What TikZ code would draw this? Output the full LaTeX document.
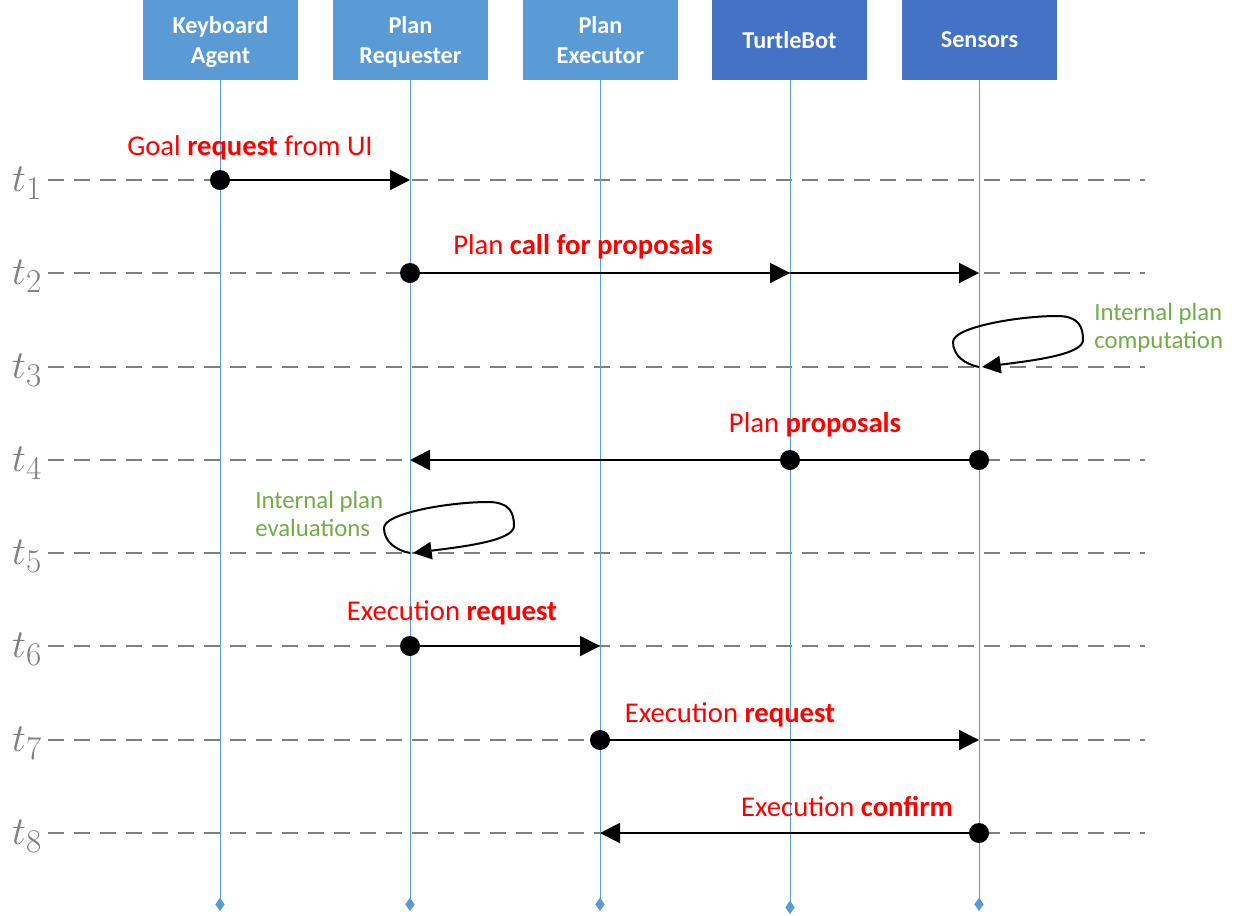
\documentclass[tikz,border=0pt]{standalone}
\usepackage{fontspec}
\setmainfont{Carlito}
\usetikzlibrary{arrows.meta}
\definecolor{boxA}{HTML}{5B9BD5}
\definecolor{boxB}{HTML}{4472C4}
\definecolor{lifec}{HTML}{5B9BD5}
\definecolor{grayline}{HTML}{7F7F7F}
\definecolor{redt}{HTML}{FF0000}
\definecolor{greent}{HTML}{70AD47}
\begin{document}
\begin{tikzpicture}[x=0.75pt,y=-0.75pt,
 actor/.style={fill=#1, minimum width=116.25pt, minimum height=60pt, inner sep=0pt, text=white, font=\fontsize{18.2}{22.5}\selectfont\bfseries, align=center},
 life/.style={draw=lifec, line width=0.75pt, -{Diamond[length=10pt,width=7pt,fill=lifec]}},
 tline/.style={draw=grayline, line width=1.5pt, dash pattern=on 12pt off 7.5pt},
 tlab/.style={text=grayline, font=\fontsize{24.88}{26}\selectfont, inner sep=0pt},
 dot/.style={circle, fill=black, minimum size=15pt, inner sep=0pt},
 msg/.style={draw=black, line width=1.5pt, -{Triangle[length=15pt,width=15pt]}},
 seg/.style={draw=black, line width=1.5pt},
 loopar/.style={draw=black, line width=1.5pt, -{Triangle[length=14pt,width=13pt]}},
 redlab/.style={text=redt, font=\fontsize{21.5}{24}\selectfont, inner sep=0pt, anchor=base},
 greenlab/.style={text=greent, font=\fontsize{18.6}{21.5}\selectfont, inner sep=0pt, align=left, anchor=west},
 selfloop/.pic={\draw[loopar] (0,0) .. controls (-15,-3) and (-26,-12) .. (-26,-25) .. controls (-26,-40) and (40,-51) .. (78,-51) .. controls (100,-51) and (104,-40) .. (104,-27) .. controls (104,-12) and (50,-6) .. (3,0);}]

\useasboundingbox (0,0) rectangle (1244,915);

% time lines
\foreach \i/\yy in {1/180,2/273,3/367,4/460,5/553,6/646,7/740,8/833}{
  \node[tlab] (t\i) at (27,\yy+3) {\scalebox{1.2}{$t_{\i}$}};
  \coordinate (tl\i) at (48,\yy);
  \coordinate (tr\i) at (1145,\yy);
  \draw[tline] (tl\i) -- (tr\i);
}

% actors
\node[actor=boxA] (kb) at (220.5,40) {};
\node[actor=boxA] (pr) at (410.5,40) {};
\node[actor=boxA] (pe) at (600.5,40) {};
\node[actor=boxB] (tb) at (789.5,40) {TurtleBot};
\node[actor=boxB] (se) at (979.5,40) {Sensors};
\node[actor=boxA, fill=none, minimum height=0pt] (kbt) at (220.5,42) {Keyboard\\Agent};
\node[actor=boxA, fill=none, minimum height=0pt] (prt) at (410.5,41.5) {Plan\\Requester};
\node[actor=boxA, fill=none, minimum height=0pt] (pet) at (600.5,40) {Plan\\Executor};

% lifelines
\coordinate (kbe) at (220,911);
\coordinate (pre) at (410,911);
\coordinate (pee) at (600,911);
\coordinate (tbe) at (790,914);
\coordinate (see) at (979,911);
\draw[life] (kb.south -| kbe) -- (kbe);
\draw[life] (pr.south -| pre) -- (pre);
\draw[life] (pe.south -| pee) -- (pee);
\draw[life] (tb.south -| tbe) -- (tbe);
\draw[life] (se.south -| see) -- (see);

% t1
\node[dot] (d1) at (220,180) {};
\coordinate (e1) at (410,180);
\draw[msg] (d1) -- (e1);
\node[redlab] (m1) at (250,155) {Goal \textbf{request} from UI};

% t2
\node[dot] (d2) at (410,273) {};
\coordinate (e2a) at (790,273);
\coordinate (e2b) at (979,273);
\draw[msg] (d2) -- (e2a);
\draw[msg] (e2a) -- (e2b);
\node[redlab] (m2) at (583,254) {Plan \textbf{call for proposals}};

% t3
\coordinate (l3) at (979,367);
\pic at (l3) {selfloop};
\node[greenlab] (g3) at (1094,328) {Internal plan\\computation};

% t4
\node[dot] (d4a) at (979,460) {};
\node[dot] (d4b) at (790,460) {};
\coordinate (e4) at (410,460);
\draw[seg] (d4a) -- (d4b);
\draw[msg, line width=2.2pt] (d4b) -- (e4);
\node[redlab] (m4) at (815,432) {Plan \textbf{proposals}};

% t5
\coordinate (l5) at (410,553);
\pic at (l5) {selfloop};
\node[greenlab] (g5) at (255,514) {Internal plan\\evaluations};

% t6
\node[dot] (d6) at (410,646) {};
\coordinate (e6) at (600,646);
\draw[msg] (d6) -- (e6);
\node[redlab] (m6) at (452,620) {Execution \textbf{request}};

% t7
\node[dot] (d7) at (600,740) {};
\coordinate (e7) at (979,740);
\draw[msg] (d7) -- (e7);
\node[redlab] (m7) at (730,722) {Execution \textbf{request}};

% t8
\node[dot] (d8) at (979,833) {};
\coordinate (e8) at (600,833);
\draw[msg] (d8) -- (e8);
\node[redlab] (m8) at (847,816) {Execution \textbf{confirm}};
\end{tikzpicture}
\end{document}
